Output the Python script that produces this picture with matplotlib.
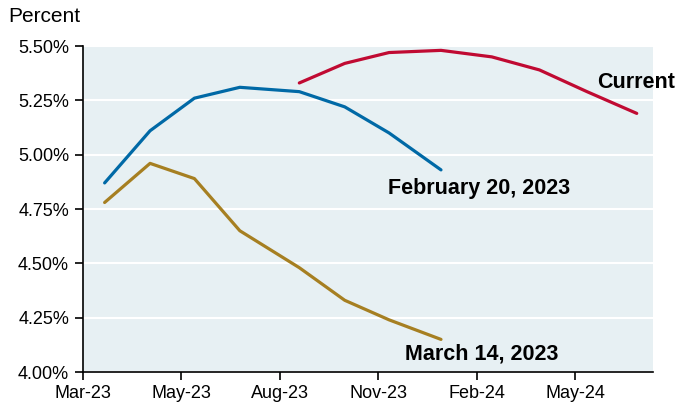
import datetime as dt
import matplotlib
matplotlib.use("Agg")
from matplotlib import pyplot as plt
import matplotlib.dates as mdates

# meeting dates and implied policy rate, percent
DATES = [
    "2023-03-21", "2023-05-02", "2023-06-12", "2023-07-24",
    "2023-09-17", "2023-10-29", "2023-12-09", "2024-01-26",
    "2024-03-13", "2024-04-26", "2024-06-09", "2024-07-25",
]
FEB20 = [4.87, 5.11, 5.26, 5.31, 5.29, 5.22, 5.10, 4.93]
MAR14 = [4.78, 4.96, 4.89, 4.65, 4.48, 4.33, 4.24, 4.15]
CURRENT = [5.33, 5.42, 5.47, 5.48, 5.45, 5.39, 5.29, 5.19]
Y_TICKS = [4.00, 4.25, 4.50, 4.75, 5.00, 5.25, 5.50]

dates = [dt.datetime.strptime(d, "%Y-%m-%d") for d in DATES]
x_start = dt.datetime(2023, 3, 1)
x_end = dt.datetime(2024, 8, 9)
x_ticks = [x_start + dt.timedelta(days=91 * k) for k in range(6)]

plt.rcParams["font.family"] = ["Liberation Sans", "DejaVu Sans"]

fig = plt.figure(figsize=(6.77, 4.04), dpi=100)
ax = fig.add_axes([0.1226, 0.0792, 0.8419, 0.8069])
ax.set_facecolor("#e7f0f3")

ax.plot(dates[:8], FEB20, color="#0069a6", lw=2.3, solid_capstyle="round")
ax.plot(dates[:8], MAR14, color="#a67f21", lw=2.3, solid_capstyle="round")
ax.plot(dates[4:], CURRENT, color="#c00a32", lw=2.3, solid_capstyle="round")

ax.set_ylim(Y_TICKS[0], Y_TICKS[-1])
ax.set_yticks(Y_TICKS)
ax.set_yticklabels([f"{v:.2f}%" for v in Y_TICKS])
ax.set_xlim(x_start, x_end)
ax.set_xticks(x_ticks)
ax.xaxis.set_major_formatter(mdates.DateFormatter("%b-%y"))

ax.grid(axis="y", color="white", lw=1.5)
ax.set_axisbelow(True)
for s in ["top", "right"]:
    ax.spines[s].set_visible(False)
ax.spines["left"].set_linewidth(1.2)
ax.spines["bottom"].set_linewidth(1.2)
ax.tick_params(axis="both", direction="out", length=6, width=1.2,
               labelsize=13, colors="black")
ax.tick_params(axis="y", pad=4)

ax.text(0.902, 0.887, "Current", transform=ax.transAxes, fontsize=15.5,
        fontweight="bold", va="center", clip_on=False)
ax.text(0.535, 0.564, "February 20, 2023", transform=ax.transAxes,
        fontsize=15.5, fontweight="bold", va="center")
ax.text(0.565, 0.055, "March 14, 2023", transform=ax.transAxes,
        fontsize=15.5, fontweight="bold", va="center")

fig.text(0.012, 0.958, "Percent", fontsize=15, va="center")

fig.savefig("out.png", dpi=100)
